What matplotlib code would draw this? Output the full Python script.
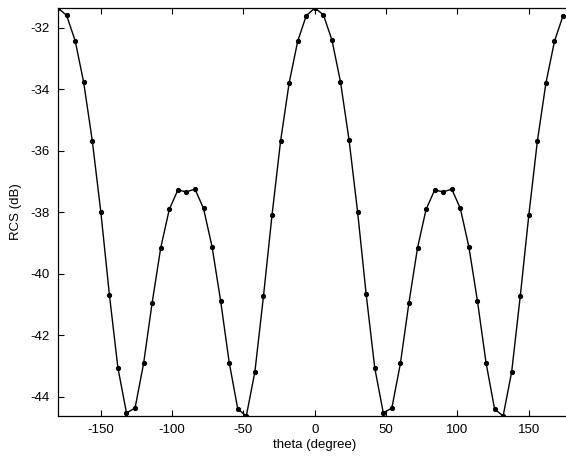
import numpy as np
import matplotlib
matplotlib.use('Agg')
import matplotlib.pyplot as plt

# --------------------------
# Data (theta step of 6 degrees)
# --------------------------
theta = np.arange(-180, 175, 6)
rcs_db = [
    -31.36, -31.60, -32.42, -33.78, -35.67, -37.99,
    -40.68, -43.07, -44.53, -44.37, -42.92, -40.94,
    -39.16, -37.91, -37.28, -37.34, -37.25, -37.88,
    -39.13, -40.89, -42.89, -44.40, -44.63, -43.19,
    -40.74, -38.10, -35.69, -33.80, -32.44, -31.61,
    -31.36, -31.58, -32.40, -33.76, -35.65, -37.99,
    -40.67, -43.06, -44.53, -44.37, -42.92, -40.94,
    -39.16, -37.91, -37.28, -37.34, -37.25, -37.88,
    -39.13, -40.89, -42.89, -44.40, -44.63, -43.19,
    -40.74, -38.10, -35.69, -33.80, -32.44, -31.61,
]
x_ticks = [-150, -100, -50, 0, 50, 100, 150]
y_ticks = [-44, -42, -40, -38, -36, -34, -32]

plt.rcParams['font.family'] = ['Liberation Sans', 'DejaVu Sans']
plt.rcParams['axes.unicode_minus'] = False

fig = plt.figure(figsize=(5.66, 4.61), dpi=100)
ax = fig.add_axes([0.1025, 0.0976, 0.9074, 0.885])

ax.plot(theta, rcs_db, color='black', linewidth=1.0,
        marker='.', markersize=5.5)

ax.set_xlim(-180, 180)
ax.set_ylim(min(rcs_db), max(rcs_db))
ax.set_xticks(x_ticks)
ax.set_yticks(y_ticks)
ax.tick_params(axis='both', direction='in', length=4, labelsize=9.5,
               top=True, right=False, pad=6)

ax.set_xlabel('theta (degree)', fontsize=9.5, labelpad=2)
ax.set_ylabel('RCS (dB)', fontsize=9.5, labelpad=6)

for side in ax.spines.values():
    side.set_linewidth(0.9)

fig.savefig('out.png', dpi=100)
